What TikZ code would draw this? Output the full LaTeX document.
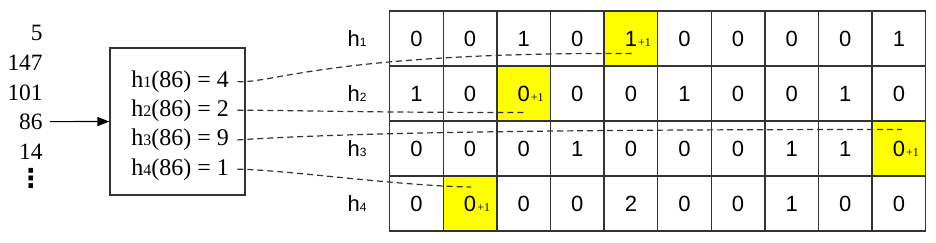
\documentclass[tikz,border=0pt]{standalone}
\usepackage{fontspec}
\setmainfont{Liberation Serif}
\newfontfamily\arialfont{Liberation Sans}
\newfontfamily\dejafont{DejaVu Sans}
\usetikzlibrary{arrows.meta, backgrounds}
\definecolor{gridline}{HTML}{333333}
\definecolor{hityellow}{HTML}{FFFF00}
\newcommand\eqsub[1]{{\fontsize{8}{8}\selectfont #1}}
\newcommand\labsub[1]{{\fontsize{6}{6}\selectfont #1}}

\begin{document}
\begin{tikzpicture}[x=0.5pt, y=-0.5pt,
    num/.style={anchor=base east, inner sep=3.5pt, font=\fontsize{11.7}{12}\selectfont},
    eq/.style={anchor=base west, inner sep=4pt, font=\fontsize{12}{13}\selectfont},
    hashbox/.style={draw=gridline, line width=0.6pt, minimum width=67.5pt, minimum height=73.5pt, inner sep=0pt},
    cell/.style={draw=gridline, line width=0.7pt, minimum width=26.8pt, minimum height=27.5pt, inner sep=0pt, font=\arialfont\fontsize{11}{12}\selectfont},
    lab/.style={inner sep=1pt, font=\arialfont\fontsize{11}{12}\selectfont},
    plus/.style={anchor=base west, inner sep=0pt, font=\fontsize{6}{6}\selectfont},
    arr/.style={-{Triangle[length=6pt, width=4.5pt]}, line width=0.6pt},
    link/.style={dash pattern=on 3pt off 2pt, line width=0.6pt, gridline}
]
\useasboundingbox (0,0) rectangle (936,242);

% input stream
\node[num] (n5) at (50,40.7) {5};
\node[num] (n147) at (50,70.7) {147};
\node[num] (n101) at (50,100) {101};
\node[num] (n86) at (50,129.3) {86};
\node[num] (n14) at (50,159.3) {14};
\node[inner sep=0pt, font=\dejafont\bfseries\fontsize{13}{13}\selectfont] (dots) at (31,178.7) {⋮};

% hash functions
\node[hashbox] (hash) at (177.5,121.5) {};
\node[eq] (l1) at (123,87.3) {h\eqsub{1}(86) = 4};
\node[eq] (l2) at (123,116) {h\eqsub{2}(86) = 2};
\node[eq] (l3) at (123,145.7) {h\eqsub{3}(86) = 9};
\node[eq] (l4) at (123,175) {h\eqsub{4}(86) = 1};

\draw[arr] (n86) -- (hash);

% counter table
\node[lab] (h1) at (357,38.5) {h\labsub{1}};
\node[lab] (h2) at (357,93.5) {h\labsub{2}};
\node[lab] (h3) at (357,148.5) {h\labsub{3}};
\node[lab] (h4) at (357,203.5) {h\labsub{4}};

\foreach \vals [count=\rw] in {{0,0,1,0,1,0,0,0,0,1},{1,0,0,0,0,1,0,0,1,0},{0,0,0,1,0,0,0,1,1,0},{0,0,0,0,2,0,0,1,0,0}}
  \foreach \v [count=\cl] in \vals
    \node[cell] (c-\rw-\cl) at ({389.7+53.6*(\cl-0.5)},{11+55*(\rw-0.5)}) {\v};

\begin{scope}[on background layer]
\foreach \rw/\cl in {1/5,2/3,3/10,4/2}
  \fill[hityellow] (c-\rw-\cl.north west) rectangle (c-\rw-\cl.south east);
\end{scope}

\node[plus] (p1) at ([xshift=3.4pt]c-1-5.base) {+1};
\node[plus] (p2) at ([xshift=3.4pt]c-2-3.base) {+1};
\node[plus] (p3) at ([xshift=3.4pt]c-3-10.base) {+1};
\node[plus] (p4) at ([xshift=3.4pt]c-4-2.base) {+1};

\coordinate (t1) at ([xshift=0.9pt, yshift=-7.5pt]c-1-5.center);
\coordinate (t2) at ([yshift=-9.5pt]c-2-3.center);
\coordinate (t3) at ([xshift=1.5pt, yshift=9.5pt]c-3-10.center);
\coordinate (t4) at ([xshift=0.5pt, yshift=8.25pt]c-4-2.center);

\draw[link] (l1.east) .. controls +(32,3) and +(-302,-1.5) .. (t1);
\draw[link] (l2.east) .. controls +(60,0) and +(-170,0) .. (t2);
\draw[link] (l3.east) .. controls +(80,-5) and +(-450,0) .. (t3);
\draw[link] (l4.east) .. controls +(42,0) and +(-71,-1) .. (t4);
\end{tikzpicture}
\end{document}
